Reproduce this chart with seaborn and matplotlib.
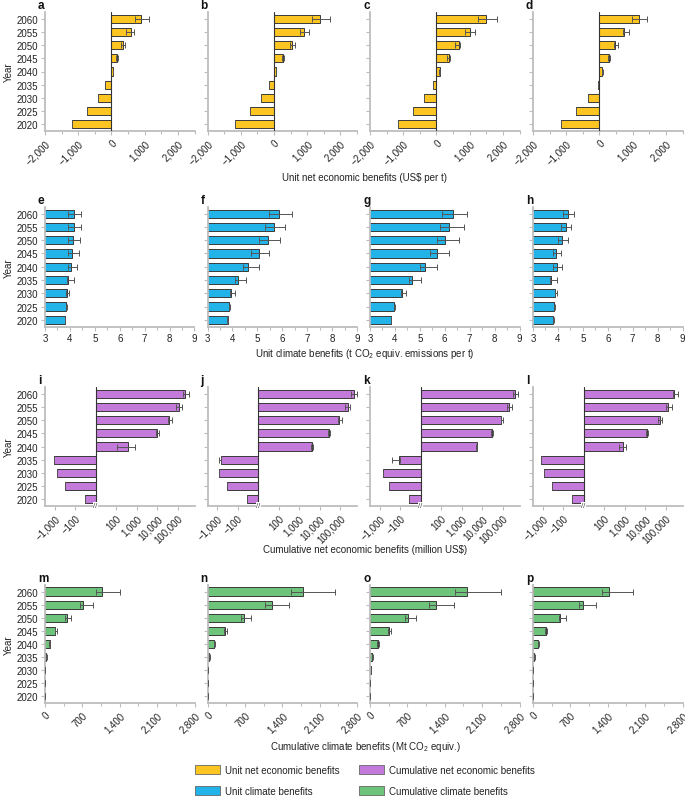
import numpy as np
import matplotlib
matplotlib.use("Agg")
import matplotlib.pyplot as plt
import matplotlib.ticker as mticker
from matplotlib.patches import Patch
import seaborn as sns

years = ["2060", "2055", "2050", "2045", "2040", "2035", "2030", "2025", "2020"]

# row 1: unit net economic benefits (US$ per t), panels a-d
econ_val = [[900, 580, 350, 170, 50, -180, -390, -730, -1180],
            [1380, 900, 550, 280, 60, -150, -380, -720, -1170],
            [1480, 1020, 670, 380, 100, -100, -360, -710, -1160],
            [1180, 750, 480, 280, 90, -50, -340, -700, -1150]]
econ_lo = [[720, 450, 300, 130, 40, -180, -390, -730, -1180],
           [1150, 780, 480, 250, 50, -150, -380, -720, -1170],
           [1240, 870, 570, 330, 80, -100, -360, -710, -1160],
           [990, 700, 440, 250, 75, -50, -340, -700, -1150]]
econ_hi = [[1120, 680, 420, 200, 60, -180, -390, -730, -1180],
           [1700, 1050, 640, 310, 70, -150, -380, -720, -1170],
           [1820, 1160, 720, 400, 120, -100, -360, -710, -1160],
           [1430, 900, 560, 310, 105, -50, -340, -700, -1150]]

# row 2: unit climate benefits (t CO2 equiv. per t), panels e-h
clim_val = [[4.17, 4.17, 4.12, 4.08, 4.04, 3.94, 3.88, 3.85, 3.81],
            [5.86, 5.68, 5.42, 5.05, 4.64, 4.24, 3.95, 3.87, 3.81],
            [6.33, 6.19, 6.03, 5.68, 5.20, 4.70, 4.29, 3.98, 3.85],
            [4.42, 4.32, 4.15, 3.93, 3.95, 3.71, 3.89, 3.85, 3.82]]
clim_lo = [[3.94, 3.94, 3.94, 3.94, 3.94, 3.90, 3.86, 3.84, 3.80],
           [5.46, 5.32, 5.08, 4.75, 4.44, 4.12, 3.92, 3.85, 3.80],
           [5.89, 5.79, 5.68, 5.39, 4.99, 4.58, 4.25, 3.96, 3.84],
           [4.19, 4.11, 4.00, 3.79, 3.82, 3.68, 3.87, 3.84, 3.81]]
clim_hi = [[4.44, 4.44, 4.39, 4.35, 4.28, 4.17, 3.98, 3.87, 3.82],
           [6.40, 6.13, 5.89, 5.48, 5.06, 4.55, 4.12, 3.89, 3.82],
           [6.91, 6.76, 6.56, 6.19, 5.68, 5.04, 4.44, 4.01, 3.86],
           [4.66, 4.53, 4.42, 4.13, 4.17, 3.95, 3.98, 3.87, 3.83]]

# row 3: cumulative net economic benefits (million US$), panels i-l
cum_econ_val = [[240000, 112000, 40000, 10000, 400, -1070, -790, -300, -32],
                [470000, 234000, 89000, 29500, 4300, -680, -830, -340, -35],
                [390000, 200000, 89000, 30000, 5600, -108, -710, -330, -36],
                [270000, 135000, 52000, 12600, 850, -1170, -860, -330, -36]]
cum_econ_lo = [[185000, 85000, 35000, 8500, 112, -1070, -790, -300, -32],
               [340000, 170000, 80000, 27000, 4000, -800, -830, -340, -35],
               [330000, 170000, 80000, 28000, 5200, -257, -710, -330, -36],
               [240000, 110000, 45000, 11500, 560, -1170, -860, -330, -36]]
cum_econ_hi = [[380000, 165000, 56000, 12600, 850, -1070, -790, -300, -32],
               [680000, 295000, 120000, 31000, 4600, -640, -830, -340, -35],
               [560000, 275000, 107000, 33000, 5900, -100, -710, -330, -36],
               [400000, 200000, 66000, 14000, 1200, -1170, -860, -330, -36]]

# row 4: cumulative climate benefits (Mt CO2 equiv.), panels m-p
cum_clim_val = [[1066, 721, 414, 194, 88, 25, 6, 1, 0],
                [1796, 1200, 675, 325, 125, 37, 12, 2, 0],
                [1825, 1231, 706, 350, 144, 44, 12, 1, 0],
                [1431, 931, 512, 237, 94, 25, 6, 1, 0]]
cum_clim_lo = [[953, 658, 376, 180, 82, 22, 5, 1, 0],
               [1565, 1082, 625, 305, 118, 34, 11, 2, 0],
               [1594, 1112, 662, 330, 135, 40, 11, 1, 0],
               [1288, 869, 481, 222, 88, 22, 5, 1, 0]]
cum_clim_hi = [[1398, 903, 495, 232, 98, 30, 8, 1, 0],
               [2396, 1525, 806, 369, 140, 42, 14, 2, 0],
               [2450, 1581, 862, 387, 160, 50, 14, 1, 0],
               [1881, 1175, 612, 269, 106, 30, 8, 1, 0]]

legend_labels = ["Unit net economic benefits", "Unit climate benefits",
                 "Cumulative net economic benefits", "Cumulative climate benefits"]
colors = ["#FDC521", "#22B4E8", "#C47ADB", "#6EC47B"]

sns.set_theme(style="ticks")
plt.rcParams["font.family"] = ["Liberation Sans", "DejaVu Sans"]
plt.rcParams["mathtext.fontset"] = "custom"
plt.rcParams["mathtext.rm"] = "Liberation Sans"
plt.rcParams["mathtext.default"] = "rm"
FS = 7
SPINE = "#bdbdbd"


def fwd(x):
    x = np.asarray(x, dtype=float)
    a = np.maximum(np.abs(x), 10)
    return np.sign(x) * (np.log10(a) - 1)


def inv(t):
    t = np.asarray(t, dtype=float)
    return np.sign(t) * 10 ** (np.abs(t) + 1)


def thousands(x, pos):
    s = f"{abs(x):,.0f}"
    return ("\u2212" + s) if x < 0 else s


W, H = 685, 804
fig = plt.figure(figsize=(W / 100, H / 100), dpi=100)

lefts = [45, 207.5, 370, 533]
width = 149.5
rows = [(13, 132), (208, 327.5), (388, 507), (586, 704)]
letters = ["abcd", "efgh", "ijkl", "mnop"]

row_data = [(econ_val, econ_lo, econ_hi),
            (clim_val, clim_lo, clim_hi),
            (cum_econ_val, cum_econ_lo, cum_econ_hi),
            (cum_clim_val, cum_clim_lo, cum_clim_hi)]
xlabels = ["Unit net economic benefits (US$ per t)",
           "Unit climate benefits (t CO$_2$ equiv. emissions per t)",
           "Cumulative net economic benefits (million US$)",
           "Cumulative climate benefits (Mt CO$_2$ equiv.)"]
xlabel_y = [178, 354, 550, 747]

for r in range(4):
    top, bot = rows[r]
    vals, los, his = row_data[r]
    for c in range(4):
        ax = fig.add_axes([lefts[c] / W, 1 - bot / H, width / W, (bot - top) / H])
        v = np.array(vals[c], dtype=float)
        lo = np.array(los[c], dtype=float)
        hi = np.array(his[c], dtype=float)
        sns.barplot(x=v, y=years, order=years, orient="h", color=colors[r],
                    saturation=1, width=0.62, edgecolor="#3a3a3a", linewidth=0.7, ax=ax)
        pos = np.arange(len(years))
        ax.errorbar(v, pos, xerr=[v - lo, hi - v], fmt="none", ecolor="#555555",
                    elinewidth=0.7, capsize=2, capthick=0.7, zorder=4)
        ax.set_ylim(8.5, -0.5)

        if r == 0:
            ax.set_xlim(-2000, 2500)
            ax.xaxis.set_major_locator(mticker.FixedLocator([-2000, -1000, 0, 1000, 2000]))
            ax.xaxis.set_minor_locator(mticker.MultipleLocator(500))
            ax.xaxis.set_major_formatter(mticker.FuncFormatter(thousands))
            ax.axvline(0, color="#333333", lw=0.8, zorder=3)
        elif r == 1:
            ax.set_xlim(3, 9)
            ax.xaxis.set_major_locator(mticker.MultipleLocator(1))
            ax.xaxis.set_minor_locator(mticker.MultipleLocator(0.5))
        elif r == 2:
            ax.set_xscale("function", functions=(fwd, inv))
            ax.set_xlim(-2950, 676000)
            ax.xaxis.set_major_locator(mticker.FixedLocator([-1000, -100, 100, 1000, 10000, 100000]))
            ax.xaxis.set_minor_locator(mticker.NullLocator())
            ax.xaxis.set_major_formatter(mticker.FuncFormatter(thousands))
            ax.axvline(0, color="#333333", lw=0.8, zorder=3)
            ax.text(0, 0, "//", transform=ax.get_xaxis_transform(), ha="center", va="center",
                    fontsize=5.5, color="#444444",
                    bbox=dict(fc="white", ec="none", pad=0.3), zorder=6, clip_on=False)
        else:
            ax.set_xlim(0, 2800)
            ax.xaxis.set_major_locator(mticker.FixedLocator([0, 700, 1400, 2100, 2800]))
            ax.xaxis.set_minor_locator(mticker.MultipleLocator(350))
            ax.xaxis.set_major_formatter(mticker.FuncFormatter(thousands))

        sns.despine(ax=ax)
        for side in ["left", "bottom"]:
            ax.spines[side].set_color(SPINE)
            ax.spines[side].set_linewidth(1.3)
        ax.tick_params(axis="both", which="both", colors=SPINE, labelcolor="#222222",
                       labelsize=FS, width=0.8)
        ax.tick_params(axis="both", which="major", length=3, pad=2)
        ax.tick_params(axis="x", which="minor", length=2)
        if r != 1:
            for lab in ax.get_xticklabels():
                lab.set_rotation(45)
                lab.set_ha("right")
                lab.set_rotation_mode("anchor")
        if c == 0:
            ax.set_ylabel("Year", fontsize=FS, color="#222222", labelpad=2)
        else:
            ax.set_yticklabels([])
            ax.set_ylabel("")
        ax.set_xlabel("")

        fig.text((lefts[c] - 7) / W, 1 - (top - 7) / H, letters[r][c], fontsize=8.5,
                 fontweight="bold", ha="left", va="center", color="#111111")

    fig.text(365 / W, 1 - xlabel_y[r] / H, xlabels[r], fontsize=FS, ha="center",
             va="center", color="#222222")

handles = [Patch(facecolor=col, edgecolor="#666666", linewidth=0.6) for col in colors]
fig.legend(handles, legend_labels, ncol=2, loc="upper left",
           bbox_to_anchor=(195 / W, 1 - 766 / H), frameon=False, fontsize=FS,
           handlelength=2.6, handleheight=1.1, handletextpad=0.5, columnspacing=2.0,
           labelspacing=1.1, borderpad=0, borderaxespad=0, labelcolor="#222222")

fig.savefig("out.png", dpi=100)
